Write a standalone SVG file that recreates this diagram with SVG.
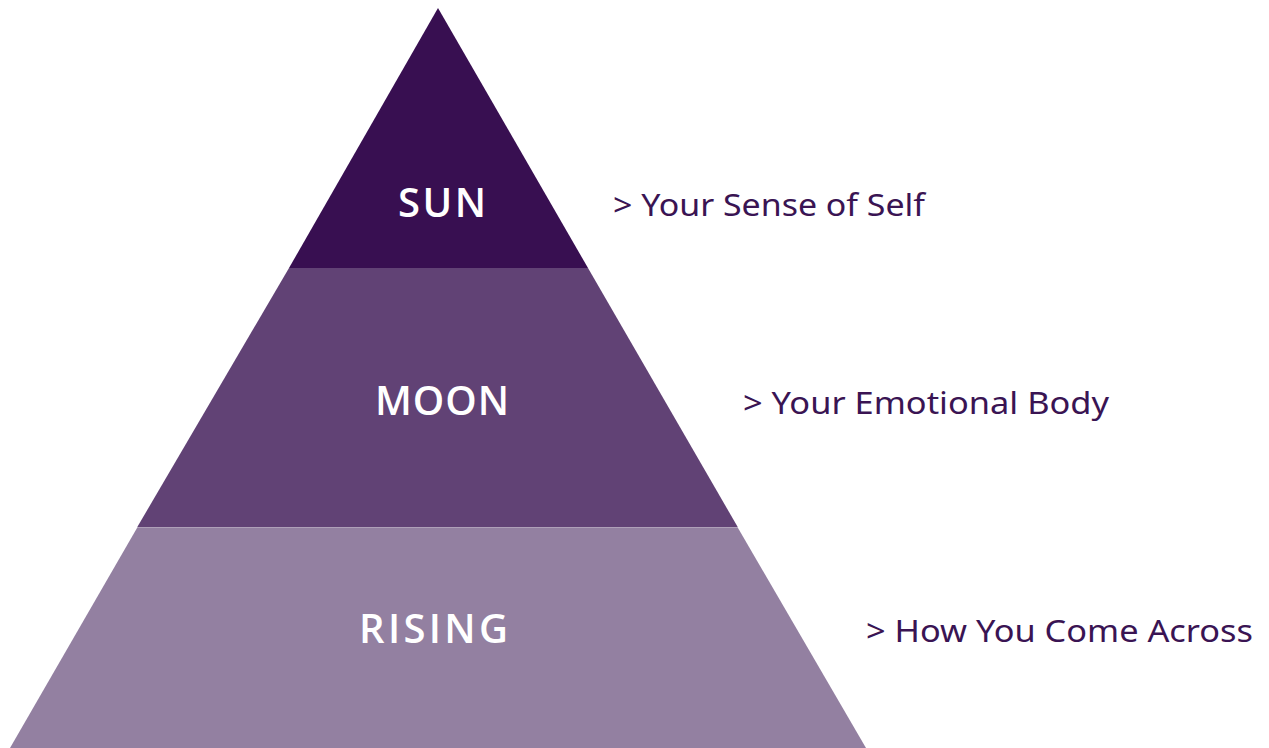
<svg xmlns="http://www.w3.org/2000/svg" width="1269" height="748" viewBox="0 0 1269 748">
<style>
.tier-label{font-family:"Open Sans","Noto Sans",sans-serif;font-weight:600;font-size:40px;fill:#ffffff}
.desc{font-family:"Noto Sans","Open Sans",sans-serif;font-weight:400;font-size:31px;fill:#3a1453}
</style>
<rect width="1269" height="748" fill="#ffffff"/>
<g id="rising">
<polygon points="137,528 738,528 866,748 10,748" fill="#9380a1"/>
<text class="tier-label" x="359" y="643" textLength="149" lengthAdjust="spacing">RISING</text>
<text class="desc" x="866" y="642" textLength="387" lengthAdjust="spacingAndGlyphs">&gt; How You Come Across</text>
</g>
<g id="moon">
<polygon points="289,268 588,268 738,527.5 137,527.5" fill="#614275"/>
<text class="tier-label" x="375" y="415" textLength="134" lengthAdjust="spacing">MOON</text>
<text class="desc" x="743" y="414" textLength="366" lengthAdjust="spacingAndGlyphs">&gt; Your Emotional Body</text>
</g>
<g id="sun">
<polygon points="438,8 588,268 289,268" fill="#380f51"/>
<text class="tier-label" x="398" y="217" textLength="88" lengthAdjust="spacing">SUN</text>
<text class="desc" x="613" y="216" textLength="312" lengthAdjust="spacingAndGlyphs">&gt; Your Sense of Self</text>
</g>
<g id="connectors"></g>
</svg>
